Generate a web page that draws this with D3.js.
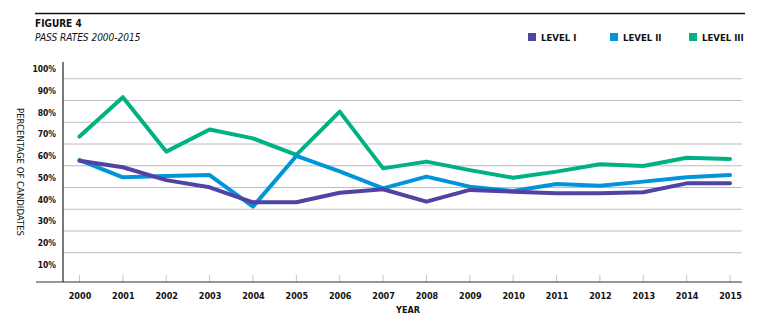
<!DOCTYPE html>
<html>
<head>
<meta charset="utf-8">
<script src="https://cdn.jsdelivr.net/npm/d3@7"></script>
<style>
  body { margin: 0; background: #fff; }
  svg text { font-family: "Liberation Sans Narrow", "DejaVu Sans Condensed", sans-serif; fill: #111; }
</style>
</head>
<body>
<svg width="775" height="331"></svg>
<script>
const years = [2000,2001,2002,2003,2004,2005,2006,2007,2008,2009,2010,2011,2012,2013,2014,2015];
const levelI   = [52.3,49.3,43.4,40.1,33.2,33.2,37.6,39.2,33.5,38.9,38.1,37.3,37.3,37.8,41.9,41.9];
const levelII  = [52.6,44.7,45.3,45.7,31.2,54.5,47.4,39.6,45.0,40.4,38.4,41.6,40.8,42.7,44.7,45.7];
const levelIII = [63.4,81.5,56.5,66.7,62.6,55.0,74.9,48.8,51.9,48.0,44.5,47.3,50.7,49.9,53.7,53.1];
const yTicks = [10,20,30,40,50,60,70,80,90,100];
const seriesNames = ["LEVEL I", "LEVEL II", "LEVEL III"];
const seriesColors = ["#5143a5", "#0095db", "#00b183"];

const svg = d3.select("svg");

const x = d3.scalePoint().domain(years).range([79.5, 730]);
const y = d3.scaleLinear().domain([0, 100]).range([274.5, 57]);

// top rule + titles
svg.append("line")
  .attr("x1", 35).attr("x2", 745).attr("y1", 13.5).attr("y2", 13.5)
  .attr("stroke", "#111").attr("stroke-width", 1.5);

svg.append("text").text("FIGURE 4")
  .attr("x", 35).attr("y", 26.5)
  .style("font-size", "10px").style("font-weight", "bold");

svg.append("text").text("PASS RATES 2000-2015")
  .attr("x", 35).attr("y", 41)
  .style("font-size", "10px").style("font-style", "italic");

// legend
const legendX = [528, 610, 689];
seriesNames.forEach((name, i) => {
  svg.append("rect")
    .attr("x", legendX[i]).attr("y", 33).attr("width", 8).attr("height", 8)
    .attr("fill", seriesColors[i]);
  svg.append("text").text(name)
    .attr("x", legendX[i] + 13).attr("y", 40.5)
    .style("font-size", "9.5px").style("font-weight", "bold");
});

// gridlines (10%..90%)
svg.append("g")
  .selectAll("line")
  .data(yTicks.filter(d => d < 100))
  .join("line")
  .attr("x1", 63).attr("x2", 742)
  .attr("y1", d => y(d)).attr("y2", d => y(d))
  .attr("stroke", "#bdbdbd").attr("stroke-width", 1);

// y tick labels (sit a bit below their gridlines, as in the original)
svg.append("g")
  .selectAll("text")
  .data(yTicks)
  .join("text")
  .text(d => d + "%")
  .attr("x", 56)
  .attr("y", d => y(d) + 12)
  .attr("text-anchor", "end")
  .attr("dominant-baseline", "central")
  .style("font-size", "8.5px").style("font-weight", "bold");

// x axis with ticks
const xAxis = d3.axisBottom(x).tickSize(0).tickPadding(11);
const gx = svg.append("g")
  .attr("transform", "translate(0,282)")
  .call(xAxis);
gx.select(".domain").remove();
gx.selectAll("text")
  .style("font-size", "9px").style("font-weight", "bold")
  .style("font-family", "\"Liberation Sans Narrow\", \"DejaVu Sans Condensed\", sans-serif")
  .attr("fill", "#111");

svg.append("g")
  .selectAll("line")
  .data(years)
  .join("line")
  .attr("x1", d => x(d)).attr("x2", d => x(d))
  .attr("y1", 275).attr("y2", 282)
  .attr("stroke", "#c4c4c4").attr("stroke-width", 1);

// axis lines
svg.append("line")
  .attr("x1", 36).attr("x2", 742).attr("y1", 282).attr("y2", 282)
  .attr("stroke", "#333").attr("stroke-width", 1.2);
svg.append("line")
  .attr("x1", 63).attr("x2", 63).attr("y1", 62).attr("y2", 282)
  .attr("stroke", "#222").attr("stroke-width", 1.2);

// axis titles
svg.append("text").text("YEAR")
  .attr("x", 408).attr("y", 313)
  .attr("text-anchor", "middle")
  .style("font-size", "9px").style("font-weight", "bold");

svg.append("text").text("PERCENTAGE OF CANDIDATES")
  .attr("transform", "translate(17,172) rotate(90)")
  .attr("text-anchor", "middle")
  .style("font-size", "9.5px");

// lines
const line = d3.line()
  .x((d, i) => x(years[i]))
  .y(d => y(d));

const allSeries = [levelIII, levelII, levelI];
const drawColors = [seriesColors[2], seriesColors[1], seriesColors[0]];
svg.append("g")
  .selectAll("path")
  .data(allSeries)
  .join("path")
  .attr("d", line)
  .attr("fill", "none")
  .attr("stroke", (d, i) => drawColors[i])
  .attr("stroke-width", 4)
  .attr("stroke-linejoin", "round")
  .attr("stroke-linecap", "round");
</script>
</body>
</html>
